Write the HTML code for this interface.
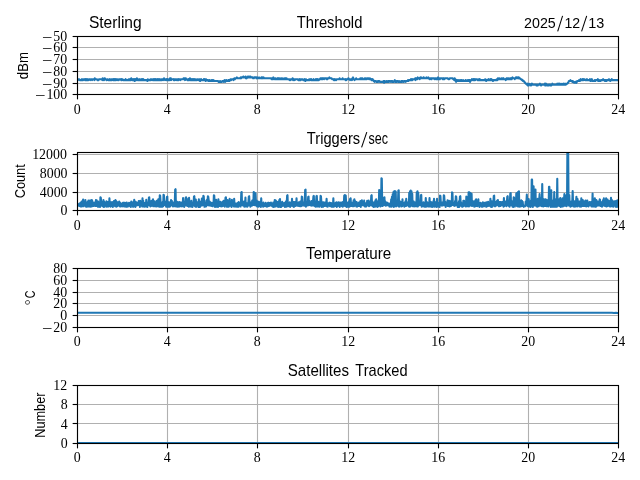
<!DOCTYPE html>
<html><head><meta charset="utf-8"><title>Sterling</title>
<style>html,body{margin:0;padding:0;background:#fff;}svg{display:block;will-change:transform;}</style></head><body>
<svg width="640" height="480" viewBox="0 0 640 480">
<rect width="640" height="480" fill="#fff"/>
<defs><clipPath id="c0"><rect x="77.5" y="36.5" width="541" height="58"/></clipPath><clipPath id="c1"><rect x="77.5" y="152.5" width="541" height="58"/></clipPath><clipPath id="c2"><rect x="77.5" y="268.5" width="541" height="59"/></clipPath><clipPath id="c3"><rect x="77.5" y="385.5" width="541" height="58"/></clipPath></defs>
<line x1="77.5" y1="36.5" x2="77.5" y2="94.5" stroke="#b0b0b0" stroke-width="1.11"/>
<line x1="167.5" y1="36.5" x2="167.5" y2="94.5" stroke="#b0b0b0" stroke-width="1.11"/>
<line x1="257.5" y1="36.5" x2="257.5" y2="94.5" stroke="#b0b0b0" stroke-width="1.11"/>
<line x1="348.5" y1="36.5" x2="348.5" y2="94.5" stroke="#b0b0b0" stroke-width="1.11"/>
<line x1="438.5" y1="36.5" x2="438.5" y2="94.5" stroke="#b0b0b0" stroke-width="1.11"/>
<line x1="528.5" y1="36.5" x2="528.5" y2="94.5" stroke="#b0b0b0" stroke-width="1.11"/>
<line x1="618.5" y1="36.5" x2="618.5" y2="94.5" stroke="#b0b0b0" stroke-width="1.11"/>
<line x1="77.5" y1="94.5" x2="618.5" y2="94.5" stroke="#b0b0b0" stroke-width="1.11"/>
<line x1="77.5" y1="83.5" x2="618.5" y2="83.5" stroke="#b0b0b0" stroke-width="1.11"/>
<line x1="77.5" y1="71.5" x2="618.5" y2="71.5" stroke="#b0b0b0" stroke-width="1.11"/>
<line x1="77.5" y1="59.5" x2="618.5" y2="59.5" stroke="#b0b0b0" stroke-width="1.11"/>
<line x1="77.5" y1="47.5" x2="618.5" y2="47.5" stroke="#b0b0b0" stroke-width="1.11"/>
<line x1="77.5" y1="36.5" x2="618.5" y2="36.5" stroke="#b0b0b0" stroke-width="1.11"/>
<polyline clip-path="url(#c0)" points="77.5,79.2 77.88,80.1 78.25,79.2 78.63,79.2 79,79.2 79.38,79.2 79.76,80.1 80.13,80.1 80.51,80.1 80.88,80.1 81.26,80.1 81.64,80.1 82.01,79.2 82.39,80.1 82.76,80.1 83.14,80.1 83.52,79.2 83.89,79.2 84.27,79.2 84.64,79.2 85.02,80.1 85.4,79.2 85.77,80.1 86.15,79.2 86.52,80.1 86.9,80.1 87.28,79.2 87.65,80.1 88.03,80.1 88.4,80.1 88.78,79.2 89.16,79.2 89.53,79.2 89.91,79.2 90.28,80.1 90.66,79.2 91.04,79.2 91.41,79.2 91.79,79.2 92.16,80.1 92.54,79.2 92.92,79.2 93.29,79.2 93.67,79.2 94.04,79.2 94.42,80.1 94.8,78.3 95.17,79.2 95.55,79.2 95.92,79.2 96.3,79.2 96.68,79.2 97.05,79.2 97.43,80.1 97.8,80.1 98.18,80.1 98.56,80.1 98.93,79.2 99.31,79.2 99.68,79.2 100.06,79.2 100.44,79.2 100.81,79.2 101.19,79.2 101.56,79.2 101.94,79.2 102.32,80.1 102.69,78.3 103.07,79.2 103.44,79.2 103.82,80.1 104.2,80.1 104.57,78.3 104.95,78.3 105.32,79.2 105.7,79.2 106.08,79.2 106.45,80.1 106.83,80.1 107.2,79.2 107.58,79.2 107.96,79.2 108.33,80.1 108.71,80.1 109.08,80.1 109.46,80.1 109.84,79.2 110.21,80.1 110.59,80.1 110.96,80.1 111.34,79.2 111.72,79.2 112.09,80.1 112.47,79.2 112.84,79.2 113.22,80.1 113.6,79.2 113.97,80.1 114.35,80.1 114.72,79.2 115.1,80.1 115.48,80.1 115.85,79.2 116.23,80.1 116.6,79.2 116.98,79.2 117.36,80.1 117.73,79.2 118.11,79.2 118.48,80.1 118.86,80.1 119.24,79.2 119.61,79.2 119.99,79.2 120.36,79.2 120.74,79.2 121.12,80.1 121.49,79.2 121.87,80.1 122.24,79.2 122.62,79.2 123,80.1 123.37,80.1 123.75,80.1 124.12,80.1 124.5,80.1 124.88,80.1 125.25,80.1 125.63,79.2 126,80.1 126.38,80.1 126.76,80.1 127.13,80.1 127.51,80.1 127.88,80.1 128.26,80.1 128.64,79.2 129.01,79.2 129.39,80.1 129.76,80.1 130.14,79.2 130.52,80.1 130.89,80.1 131.27,78.3 131.64,79.2 132.02,80.1 132.4,80.1 132.77,80.1 133.15,79.2 133.52,80.1 133.9,80.1 134.28,79.2 134.65,81 135.03,80.1 135.4,79.2 135.78,80.1 136.16,80.1 136.53,80.1 136.91,78.3 137.28,79.2 137.66,80.1 138.04,79.2 138.41,80.1 138.79,80.1 139.16,80.1 139.54,80.1 139.92,79.2 140.29,80.1 140.67,80.1 141.04,80.1 141.42,80.1 141.8,79.2 142.17,80.1 142.55,79.2 142.92,80.1 143.3,79.2 143.68,80.1 144.05,80.1 144.43,80.1 144.8,80.1 145.18,80.1 145.56,80.1 145.93,80.1 146.31,80.1 146.68,80.1 147.06,80.1 147.44,81 147.81,79.2 148.19,80.1 148.56,80.1 148.94,80.1 149.32,80.1 149.69,80.1 150.07,80.1 150.44,79.2 150.82,79.2 151.2,80.1 151.57,79.2 151.95,79.2 152.32,79.2 152.7,80.1 153.08,80.1 153.45,80.1 153.83,79.2 154.2,80.1 154.58,79.2 154.96,80.1 155.33,80.1 155.71,79.2 156.08,80.1 156.46,80.1 156.84,80.1 157.21,79.2 157.59,80.1 157.96,80.1 158.34,79.2 158.72,80.1 159.09,80.1 159.47,80.1 159.84,79.2 160.22,80.1 160.6,80.1 160.97,80.1 161.35,79.2 161.72,79.2 162.1,80.1 162.48,79.2 162.85,79.2 163.23,80.1 163.6,79.2 163.98,78.3 164.36,79.2 164.73,79.2 165.11,80.1 165.48,79.2 165.86,79.2 166.24,79.2 166.61,80.1 166.99,79.2 167.36,80.1 167.74,79.2 168.12,80.1 168.49,80.1 168.87,80.1 169.24,79.2 169.62,80.1 170,78.3 170.37,79.2 170.75,78.3 171.12,80.1 171.5,79.2 171.88,79.2 172.25,79.2 172.63,79.2 173,79.2 173.38,79.2 173.76,80.1 174.13,79.2 174.51,80.1 174.88,80.1 175.26,79.2 175.64,79.2 176.01,79.2 176.39,80.1 176.76,79.2 177.14,79.2 177.52,80.1 177.89,80.1 178.27,79.2 178.64,80.1 179.02,79.2 179.4,79.2 179.77,79.2 180.15,79.2 180.52,80.1 180.9,79.2 181.28,79.2 181.65,79.2 182.03,79.2 182.4,79.2 182.78,79.2 183.16,79.2 183.53,78.3 183.91,79.2 184.28,79.2 184.66,78.3 185.04,80.1 185.41,79.2 185.79,78.3 186.16,79.2 186.54,79.2 186.92,79.2 187.29,80.1 187.67,80.1 188.04,80.1 188.42,79.2 188.8,80.1 189.17,80.1 189.55,80.1 189.92,78.3 190.3,80.1 190.68,80.1 191.05,79.2 191.43,79.2 191.8,80.1 192.18,79.2 192.56,80.1 192.93,80.1 193.31,79.2 193.68,80.1 194.06,80.1 194.44,79.2 194.81,80.1 195.19,80.1 195.56,79.2 195.94,79.2 196.32,80.1 196.69,80.1 197.07,80.1 197.44,79.2 197.82,79.2 198.2,79.2 198.57,80.1 198.95,80.1 199.32,79.2 199.7,79.2 200.08,81 200.45,80.1 200.83,80.1 201.2,79.2 201.58,80.1 201.96,80.1 202.33,80.1 202.71,80.1 203.08,80.1 203.46,80.1 203.84,79.2 204.21,80.1 204.59,80.1 204.96,79.2 205.34,80.1 205.72,81 206.09,79.2 206.47,80.1 206.84,80.1 207.22,80.1 207.6,80.1 207.97,80.1 208.35,81 208.72,81 209.1,80.1 209.48,80.1 209.85,81 210.23,81 210.6,81 210.98,81 211.36,80.1 211.73,81 212.11,80.1 212.48,80.1 212.86,81 213.24,81 213.61,80.1 213.99,81 214.36,81 214.74,81 215.12,81 215.49,81 215.87,81 216.24,81 216.62,81 217,81 217.37,81 217.75,81 218.12,81 218.5,81.9 218.88,81.9 219.25,81.9 219.63,81.9 220,81 220.38,81.9 220.76,81.9 221.13,81.9 221.51,81.9 221.88,81.9 222.26,81 222.64,81 223.01,81 223.39,81 223.76,81.9 224.14,81 224.52,80.1 224.89,81 225.27,81.9 225.64,81 226.02,80.1 226.4,80.1 226.77,81 227.15,81 227.52,81 227.9,81 228.28,80.1 228.65,80.1 229.03,80.1 229.4,81 229.78,80.1 230.16,80.1 230.53,79.2 230.91,79.2 231.28,80.1 231.66,79.2 232.04,79.2 232.41,79.2 232.79,79.2 233.16,79.2 233.54,80.1 233.92,79.2 234.29,78.3 234.67,78.3 235.04,79.2 235.42,78.3 235.8,78.3 236.17,78.3 236.55,78.3 236.92,77.4 237.3,78.3 237.68,78.3 238.05,78.3 238.43,78.3 238.8,78.3 239.18,78.3 239.56,78.3 239.93,78.3 240.31,78.3 240.68,77.4 241.06,78.3 241.44,77.4 241.81,77.4 242.19,77.4 242.56,77.4 242.94,77.4 243.32,76.5 243.69,77.4 244.07,77.4 244.44,77.4 244.82,77.4 245.2,77.4 245.57,76.5 245.95,78.3 246.32,77.4 246.7,78.3 247.08,77.4 247.45,77.4 247.83,76.5 248.2,77.4 248.58,77.4 248.96,76.5 249.33,77.4 249.71,77.4 250.08,76.5 250.46,76.5 250.84,77.4 251.21,77.4 251.59,77.4 251.96,77.4 252.34,77.4 252.72,77.4 253.09,78.3 253.47,78.3 253.84,78.3 254.22,77.4 254.6,77.4 254.97,77.4 255.35,77.4 255.72,77.4 256.1,77.4 256.48,78.3 256.85,77.4 257.23,77.4 257.6,78.3 257.98,78.3 258.36,78.3 258.73,78.3 259.11,77.4 259.48,78.3 259.86,78.3 260.24,78.3 260.61,78.3 260.99,78.3 261.36,77.4 261.74,77.4 262.12,78.3 262.49,77.4 262.87,78.3 263.24,78.3 263.62,77.4 264,78.3 264.37,78.3 264.75,78.3 265.12,78.3 265.5,78.3 265.88,78.3 266.25,78.3 266.63,78.3 267,78.3 267.38,78.3 267.76,78.3 268.13,78.3 268.51,78.3 268.88,78.3 269.26,78.3 269.64,78.3 270.01,78.3 270.39,78.3 270.76,78.3 271.14,78.3 271.52,79.2 271.89,78.3 272.27,79.2 272.64,78.3 273.02,79.2 273.4,77.4 273.77,78.3 274.15,78.3 274.52,79.2 274.9,79.2 275.28,78.3 275.65,79.2 276.03,79.2 276.4,79.2 276.78,79.2 277.16,78.3 277.53,79.2 277.91,78.3 278.28,79.2 278.66,78.3 279.04,79.2 279.41,79.2 279.79,78.3 280.16,79.2 280.54,79.2 280.92,79.2 281.29,78.3 281.67,79.2 282.04,79.2 282.42,79.2 282.8,78.3 283.17,79.2 283.55,79.2 283.92,79.2 284.3,79.2 284.68,78.3 285.05,79.2 285.43,78.3 285.8,79.2 286.18,79.2 286.56,78.3 286.93,79.2 287.31,79.2 287.68,79.2 288.06,79.2 288.44,79.2 288.81,79.2 289.19,79.2 289.56,80.1 289.94,79.2 290.32,79.2 290.69,80.1 291.07,79.2 291.44,79.2 291.82,79.2 292.2,79.2 292.57,78.3 292.95,80.1 293.32,80.1 293.7,79.2 294.08,79.2 294.45,79.2 294.83,80.1 295.2,79.2 295.58,79.2 295.96,79.2 296.33,79.2 296.71,79.2 297.08,79.2 297.46,79.2 297.84,79.2 298.21,80.1 298.59,80.1 298.96,79.2 299.34,79.2 299.72,80.1 300.09,79.2 300.47,80.1 300.84,80.1 301.22,79.2 301.6,79.2 301.97,79.2 302.35,79.2 302.72,79.2 303.1,80.1 303.48,80.1 303.85,80.1 304.23,80.1 304.6,79.2 304.98,80.1 305.36,81 305.73,79.2 306.11,79.2 306.48,80.1 306.86,80.1 307.24,80.1 307.61,80.1 307.99,80.1 308.36,80.1 308.74,80.1 309.12,79.2 309.49,79.2 309.87,80.1 310.24,79.2 310.62,79.2 311,80.1 311.37,79.2 311.75,80.1 312.12,80.1 312.5,80.1 312.88,80.1 313.25,80.1 313.63,79.2 314,80.1 314.38,80.1 314.76,80.1 315.13,80.1 315.51,80.1 315.88,79.2 316.26,80.1 316.64,80.1 317.01,79.2 317.39,80.1 317.76,79.2 318.14,80.1 318.52,80.1 318.89,80.1 319.27,79.2 319.64,79.2 320.02,79.2 320.4,78.3 320.77,79.2 321.15,79.2 321.52,78.3 321.9,79.2 322.28,78.3 322.65,79.2 323.03,78.3 323.4,78.3 323.78,78.3 324.16,79.2 324.53,78.3 324.91,78.3 325.28,78.3 325.66,78.3 326.04,78.3 326.41,79.2 326.79,78.3 327.16,78.3 327.54,79.2 327.92,78.3 328.29,78.3 328.67,78.3 329.04,78.3 329.42,77.4 329.8,78.3 330.17,78.3 330.55,78.3 330.92,78.3 331.3,78.3 331.68,78.3 332.05,79.2 332.43,79.2 332.8,79.2 333.18,79.2 333.56,79.2 333.93,80.1 334.31,79.2 334.68,80.1 335.06,79.2 335.44,79.2 335.81,80.1 336.19,80.1 336.56,79.2 336.94,79.2 337.32,79.2 337.69,79.2 338.07,79.2 338.44,79.2 338.82,79.2 339.2,79.2 339.57,78.3 339.95,79.2 340.32,79.2 340.7,79.2 341.08,79.2 341.45,79.2 341.83,79.2 342.2,79.2 342.58,78.3 342.96,79.2 343.33,79.2 343.71,79.2 344.08,79.2 344.46,79.2 344.84,79.2 345.21,79.2 345.59,80.1 345.96,79.2 346.34,80.1 346.72,79.2 347.09,79.2 347.47,79.2 347.84,79.2 348.22,78.3 348.6,78.3 348.97,79.2 349.35,79.2 349.72,79.2 350.1,80.1 350.48,79.2 350.85,79.2 351.23,79.2 351.6,79.2 351.98,80.1 352.36,78.3 352.73,79.2 353.11,77.4 353.48,79.2 353.86,79.2 354.24,79.2 354.61,80.1 354.99,79.2 355.36,79.2 355.74,79.2 356.12,78.3 356.49,79.2 356.87,79.2 357.24,79.2 357.62,79.2 358,79.2 358.37,79.2 358.75,79.2 359.12,79.2 359.5,79.2 359.88,79.2 360.25,78.3 360.63,79.2 361,79.2 361.38,78.3 361.76,79.2 362.13,79.2 362.51,78.3 362.88,79.2 363.26,79.2 363.64,79.2 364.01,79.2 364.39,79.2 364.76,78.3 365.14,79.2 365.52,79.2 365.89,78.3 366.27,79.2 366.64,79.2 367.02,79.2 367.4,78.3 367.77,78.3 368.15,78.3 368.52,78.3 368.9,79.2 369.28,79.2 369.65,78.3 370.03,78.3 370.4,79.2 370.78,79.2 371.16,79.2 371.53,80.1 371.91,79.2 372.28,80.1 372.66,79.2 373.04,80.1 373.41,80.1 373.79,81 374.16,81 374.54,81.9 374.92,81 375.29,81 375.67,81 376.04,81 376.42,81.9 376.8,81.9 377.17,81.9 377.55,81.9 377.92,81 378.3,81.9 378.68,81 379.05,81 379.43,81 379.8,81.9 380.18,81.9 380.56,81.9 380.93,81.9 381.31,81.9 381.68,81.9 382.06,81.9 382.44,81.9 382.81,81.9 383.19,81.9 383.56,81 383.94,82.8 384.32,82.8 384.69,81 385.07,81.9 385.44,81.9 385.82,81.9 386.2,81.9 386.57,81 386.95,81 387.32,81.9 387.7,81.9 388.08,81 388.45,81 388.83,81.9 389.2,81 389.58,81 389.96,81 390.33,81.9 390.71,81 391.08,81 391.46,81 391.84,81.9 392.21,81 392.59,81.9 392.96,81.9 393.34,81.9 393.72,81.9 394.09,81 394.47,81 394.84,80.1 395.22,81.9 395.6,81 395.97,81 396.35,81.9 396.72,81 397.1,81.9 397.48,81 397.85,81 398.23,81.9 398.6,81.9 398.98,81 399.36,81.9 399.73,81.9 400.11,81.9 400.48,81.9 400.86,81.9 401.24,81 401.61,81.9 401.99,81 402.36,81.9 402.74,81 403.12,81 403.49,81.9 403.87,81.9 404.24,81 404.62,81 405,81 405.37,81 405.75,81.9 406.12,81 406.5,81 406.88,81 407.25,81 407.63,81 408,80.1 408.38,81 408.76,80.1 409.13,80.1 409.51,80.1 409.88,80.1 410.26,80.1 410.64,80.1 411.01,79.2 411.39,80.1 411.76,80.1 412.14,79.2 412.52,80.1 412.89,79.2 413.27,79.2 413.64,79.2 414.02,79.2 414.4,79.2 414.77,79.2 415.15,78.3 415.52,80.1 415.9,78.3 416.28,79.2 416.65,78.3 417.03,79.2 417.4,79.2 417.78,77.4 418.16,78.3 418.53,78.3 418.91,78.3 419.28,78.3 419.66,79.2 420.04,78.3 420.41,77.4 420.79,78.3 421.16,77.4 421.54,78.3 421.92,78.3 422.29,78.3 422.67,78.3 423.04,78.3 423.42,77.4 423.8,77.4 424.17,78.3 424.55,78.3 424.92,78.3 425.3,78.3 425.68,78.3 426.05,78.3 426.43,77.4 426.8,78.3 427.18,78.3 427.56,78.3 427.93,78.3 428.31,77.4 428.68,78.3 429.06,78.3 429.44,79.2 429.81,78.3 430.19,78.3 430.56,78.3 430.94,79.2 431.32,78.3 431.69,79.2 432.07,78.3 432.44,78.3 432.82,78.3 433.2,78.3 433.57,78.3 433.95,78.3 434.32,79.2 434.7,78.3 435.08,78.3 435.45,78.3 435.83,79.2 436.2,78.3 436.58,78.3 436.96,79.2 437.33,79.2 437.71,78.3 438.08,77.4 438.46,79.2 438.84,79.2 439.21,78.3 439.59,78.3 439.96,79.2 440.34,78.3 440.72,78.3 441.09,78.3 441.47,78.3 441.84,78.3 442.22,78.3 442.6,79.2 442.97,78.3 443.35,79.2 443.72,78.3 444.1,79.2 444.48,79.2 444.85,78.3 445.23,78.3 445.6,78.3 445.98,78.3 446.36,78.3 446.73,78.3 447.11,78.3 447.48,78.3 447.86,78.3 448.24,79.2 448.61,79.2 448.99,79.2 449.36,79.2 449.74,78.3 450.12,78.3 450.49,78.3 450.87,78.3 451.24,78.3 451.62,78.3 452,78.3 452.37,78.3 452.75,78.3 453.12,79.2 453.5,79.2 453.88,79.2 454.25,80.1 454.63,78.3 455,80.1 455.38,79.2 455.76,81 456.13,81.9 456.51,80.1 456.88,81 457.26,81 457.64,80.1 458.01,81 458.39,80.1 458.76,81 459.14,81 459.52,81 459.89,80.1 460.27,81 460.64,80.1 461.02,81 461.4,80.1 461.77,80.1 462.15,81 462.52,81 462.9,81 463.28,80.1 463.65,81 464.03,81 464.4,81 464.78,81 465.16,81 465.53,80.1 465.91,80.1 466.28,81 466.66,81 467.04,81 467.41,81 467.79,80.1 468.16,80.1 468.54,81 468.92,80.1 469.29,80.1 469.67,80.1 470.04,81.9 470.42,81 470.8,80.1 471.17,80.1 471.55,80.1 471.92,79.2 472.3,80.1 472.68,79.2 473.05,79.2 473.43,80.1 473.8,79.2 474.18,80.1 474.56,80.1 474.93,79.2 475.31,80.1 475.68,79.2 476.06,79.2 476.44,79.2 476.81,79.2 477.19,79.2 477.56,80.1 477.94,80.1 478.32,80.1 478.69,80.1 479.07,79.2 479.44,80.1 479.82,79.2 480.2,80.1 480.57,80.1 480.95,80.1 481.32,80.1 481.7,80.1 482.08,80.1 482.45,80.1 482.83,80.1 483.2,80.1 483.58,80.1 483.96,80.1 484.33,80.1 484.71,80.1 485.08,79.2 485.46,79.2 485.84,80.1 486.21,81 486.59,80.1 486.96,80.1 487.34,80.1 487.72,80.1 488.09,80.1 488.47,79.2 488.84,80.1 489.22,80.1 489.6,80.1 489.97,80.1 490.35,79.2 490.72,80.1 491.1,80.1 491.48,79.2 491.85,80.1 492.23,80.1 492.6,80.1 492.98,81 493.36,80.1 493.73,80.1 494.11,80.1 494.48,80.1 494.86,80.1 495.24,80.1 495.61,80.1 495.99,80.1 496.36,80.1 496.74,79.2 497.12,79.2 497.49,80.1 497.87,78.3 498.24,79.2 498.62,79.2 499,78.3 499.37,78.3 499.75,79.2 500.12,79.2 500.5,79.2 500.88,79.2 501.25,78.3 501.63,79.2 502,79.2 502.38,79.2 502.76,78.3 503.13,79.2 503.51,78.3 503.88,79.2 504.26,79.2 504.64,79.2 505.01,79.2 505.39,79.2 505.76,80.1 506.14,79.2 506.52,78.3 506.89,79.2 507.27,79.2 507.64,78.3 508.02,79.2 508.4,79.2 508.77,78.3 509.15,79.2 509.52,79.2 509.9,79.2 510.28,78.3 510.65,79.2 511.03,78.3 511.4,78.3 511.78,79.2 512.16,78.3 512.53,77.4 512.91,78.3 513.28,78.3 513.66,78.3 514.04,78.3 514.41,78.3 514.79,79.2 515.16,78.3 515.54,78.3 515.92,77.4 516.29,77.4 516.67,77.4 517.04,78.3 517.42,78.3 517.8,77.4 518.17,77.4 518.55,78.3 518.92,77.4 519.3,78.3 519.68,78.3 520.05,78.3 520.43,79.2 520.8,79.2 521.18,79.2 521.56,79.2 521.93,80.1 522.31,80.1 522.68,80.1 523.06,81 523.44,81 523.81,81 524.19,81.9 524.56,81.9 524.94,82.8 525.32,82.8 525.69,83.7 526.07,83.7 526.44,83.7 526.82,84.6 527.2,84.6 527.57,83.7 527.95,85.5 528.32,84.6 528.7,85.5 529.08,83.7 529.45,84.6 529.83,84.6 530.2,84.6 530.58,84.6 530.96,85.5 531.33,83.7 531.71,84.6 532.08,83.7 532.46,84.6 532.84,84.6 533.21,84.6 533.59,84.6 533.96,84.6 534.34,84.6 534.72,84.6 535.09,84.6 535.47,84.6 535.84,84.6 536.22,84.6 536.6,85.5 536.97,84.6 537.35,84.6 537.72,85.5 538.1,84.6 538.48,84.6 538.85,84.6 539.23,84.6 539.6,84.6 539.98,83.7 540.36,84.6 540.73,84.6 541.11,85.5 541.48,84.6 541.86,84.6 542.24,84.6 542.61,84.6 542.99,84.6 543.36,84.6 543.74,84.6 544.12,84.6 544.49,84.6 544.87,83.7 545.24,85.5 545.62,84.6 546,83.7 546.37,84.6 546.75,84.6 547.12,85.5 547.5,84.6 547.88,85.5 548.25,84.6 548.63,85.5 549,84.6 549.38,84.6 549.76,84.6 550.13,84.6 550.51,85.5 550.88,84.6 551.26,85.5 551.64,84.6 552.01,84.6 552.39,83.7 552.76,84.6 553.14,84.6 553.52,84.6 553.89,84.6 554.27,84.6 554.64,84.6 555.02,84.6 555.4,84.6 555.77,84.6 556.15,84.6 556.52,84.6 556.9,84.6 557.28,83.7 557.65,84.6 558.03,84.6 558.4,84.6 558.78,83.7 559.16,84.6 559.53,84.6 559.91,83.7 560.28,84.6 560.66,84.6 561.04,84.6 561.41,84.6 561.79,83.7 562.16,83.7 562.54,84.6 562.92,84.6 563.29,84.6 563.67,83.7 564.04,84.6 564.42,84.6 564.8,84.6 565.17,83.7 565.55,84.6 565.92,84.6 566.3,83.7 566.68,83.7 567.05,83.7 567.43,83.7 567.8,82.8 568.18,82.8 568.56,81.9 568.93,81 569.31,81 569.68,81 570.06,81 570.44,80.1 570.81,81 571.19,81 571.56,81 571.94,81 572.32,81.9 572.69,81 573.07,81.9 573.44,81.9 573.82,81.9 574.2,82.8 574.57,82.8 574.95,82.8 575.32,81.9 575.7,81.9 576.08,81.9 576.45,82.8 576.83,81.9 577.2,81 577.58,81 577.96,81 578.33,81 578.71,81 579.08,80.1 579.46,81 579.84,81 580.21,80.1 580.59,79.2 580.96,80.1 581.34,80.1 581.72,80.1 582.09,80.1 582.47,79.2 582.84,80.1 583.22,79.2 583.6,80.1 583.97,79.2 584.35,79.2 584.72,79.2 585.1,80.1 585.48,80.1 585.85,80.1 586.23,80.1 586.6,80.1 586.98,79.2 587.36,80.1 587.73,80.1 588.11,80.1 588.48,80.1 588.86,80.1 589.24,80.1 589.61,80.1 589.99,79.2 590.36,81 590.74,81 591.12,80.1 591.49,80.1 591.87,79.2 592.24,81 592.62,81 593,81 593.37,81 593.75,81 594.12,81 594.5,80.1 594.88,81 595.25,81 595.63,80.1 596,80.1 596.38,80.1 596.76,80.1 597.13,80.1 597.51,80.1 597.88,79.2 598.26,81 598.64,80.1 599.01,81 599.39,80.1 599.76,81 600.14,81 600.52,81 600.89,80.1 601.27,80.1 601.64,80.1 602.02,80.1 602.4,80.1 602.77,80.1 603.15,79.2 603.52,80.1 603.9,80.1 604.28,80.1 604.65,80.1 605.03,81 605.4,80.1 605.78,80.1 606.16,80.1 606.53,81 606.91,80.1 607.28,80.1 607.66,80.1 608.04,80.1 608.41,80.1 608.79,79.2 609.16,79.2 609.54,80.1 609.92,80.1 610.29,81 610.67,80.1 611.04,80.1 611.42,80.1 611.8,79.2 612.17,80.1 612.55,80.1 612.92,80.1 613.3,80.1 613.68,80.1 614.05,80.1 614.43,80.1 614.8,80.1 615.18,80.1 615.56,80.1 615.93,80.1 616.31,80.1 616.68,80.1 617.06,80.1 617.44,80.1 617.81,80.1 618.19,80.1" fill="none" stroke="#1f77b4" stroke-width="2.08" stroke-linejoin="round" stroke-linecap="butt"/>
<line x1="77.5" y1="94.5" x2="77.5" y2="99.36" stroke="#000" stroke-width="1.11"/>
<text x="77.2" y="113.75" text-anchor="middle" font-family='"Liberation Serif", serif' font-size="13.89">0</text>
<line x1="167.5" y1="94.5" x2="167.5" y2="99.36" stroke="#000" stroke-width="1.11"/>
<text x="167.2" y="113.75" text-anchor="middle" font-family='"Liberation Serif", serif' font-size="13.89">4</text>
<line x1="257.5" y1="94.5" x2="257.5" y2="99.36" stroke="#000" stroke-width="1.11"/>
<text x="257.2" y="113.75" text-anchor="middle" font-family='"Liberation Serif", serif' font-size="13.89">8</text>
<line x1="348.5" y1="94.5" x2="348.5" y2="99.36" stroke="#000" stroke-width="1.11"/>
<text x="348.2" y="113.75" text-anchor="middle" font-family='"Liberation Serif", serif' font-size="13.89">12</text>
<line x1="438.5" y1="94.5" x2="438.5" y2="99.36" stroke="#000" stroke-width="1.11"/>
<text x="438.2" y="113.75" text-anchor="middle" font-family='"Liberation Serif", serif' font-size="13.89">16</text>
<line x1="528.5" y1="94.5" x2="528.5" y2="99.36" stroke="#000" stroke-width="1.11"/>
<text x="528.2" y="113.75" text-anchor="middle" font-family='"Liberation Serif", serif' font-size="13.89">20</text>
<line x1="618.5" y1="94.5" x2="618.5" y2="99.36" stroke="#000" stroke-width="1.11"/>
<text x="618.2" y="113.75" text-anchor="middle" font-family='"Liberation Serif", serif' font-size="13.89">24</text>
<line x1="72.64" y1="94.5" x2="77.5" y2="94.5" stroke="#000" stroke-width="1.11"/>
<text x="67.2" y="99.45" text-anchor="end" font-family='"Liberation Serif", serif' font-size="13.89">100</text>
<line x1="36.02" y1="95.5" x2="44.62" y2="95.5" stroke="#000" stroke-width="0.75"/>
<line x1="72.64" y1="83.5" x2="77.5" y2="83.5" stroke="#000" stroke-width="1.11"/>
<text x="67.2" y="87.71" text-anchor="end" font-family='"Liberation Serif", serif' font-size="13.89">90</text>
<line x1="42.96" y1="84.5" x2="51.56" y2="84.5" stroke="#000" stroke-width="0.75"/>
<line x1="72.64" y1="71.5" x2="77.5" y2="71.5" stroke="#000" stroke-width="1.11"/>
<text x="67.2" y="75.97" text-anchor="end" font-family='"Liberation Serif", serif' font-size="13.89">80</text>
<line x1="42.96" y1="72.5" x2="51.56" y2="72.5" stroke="#000" stroke-width="0.75"/>
<line x1="72.64" y1="59.5" x2="77.5" y2="59.5" stroke="#000" stroke-width="1.11"/>
<text x="67.2" y="64.23" text-anchor="end" font-family='"Liberation Serif", serif' font-size="13.89">70</text>
<line x1="42.96" y1="60.5" x2="51.56" y2="60.5" stroke="#000" stroke-width="0.75"/>
<line x1="72.64" y1="47.5" x2="77.5" y2="47.5" stroke="#000" stroke-width="1.11"/>
<text x="67.2" y="52.49" text-anchor="end" font-family='"Liberation Serif", serif' font-size="13.89">60</text>
<line x1="42.96" y1="48.5" x2="51.56" y2="48.5" stroke="#000" stroke-width="0.75"/>
<line x1="72.64" y1="36.5" x2="77.5" y2="36.5" stroke="#000" stroke-width="1.11"/>
<text x="67.2" y="40.75" text-anchor="end" font-family='"Liberation Serif", serif' font-size="13.89">50</text>
<line x1="42.96" y1="37.5" x2="51.56" y2="37.5" stroke="#000" stroke-width="0.75"/>
<rect x="77.5" y="36.5" width="541" height="58" fill="none" stroke="#000" stroke-width="1.11" stroke-linejoin="miter"/>
<text x="88.9" y="28" font-family='"Liberation Sans", sans-serif' font-size="16.1" textLength="52.79" lengthAdjust="spacingAndGlyphs">Sterling</text>
<text x="296.77" y="28" font-family='"Liberation Sans", sans-serif' font-size="16.1" textLength="65.58" lengthAdjust="spacingAndGlyphs">Threshold</text>
<text x="524.09" y="28" font-family='"Liberation Sans", sans-serif' font-size="15.4" textLength="31.71" lengthAdjust="spacingAndGlyphs">2025</text>
<line x1="557.7" y1="31.3" x2="562.6" y2="15.9" stroke="#000" stroke-width="1.05"/>
<text x="564.44" y="28" font-family='"Liberation Sans", sans-serif' font-size="15.4" textLength="15.7" lengthAdjust="spacingAndGlyphs">12</text>
<line x1="581.6" y1="31.3" x2="586.7" y2="15.9" stroke="#000" stroke-width="1.05"/>
<text x="588.32" y="28" font-family='"Liberation Sans", sans-serif' font-size="15.4" textLength="16.03" lengthAdjust="spacingAndGlyphs">13</text>
<text transform="translate(27.9,78.6) rotate(-90)" x="-0.56" y="0" font-family='"Liberation Sans", sans-serif' font-size="14.2" textLength="27.13" lengthAdjust="spacingAndGlyphs">dBm</text>
<line x1="77.5" y1="152.5" x2="77.5" y2="210.5" stroke="#b0b0b0" stroke-width="1.11"/>
<line x1="167.5" y1="152.5" x2="167.5" y2="210.5" stroke="#b0b0b0" stroke-width="1.11"/>
<line x1="257.5" y1="152.5" x2="257.5" y2="210.5" stroke="#b0b0b0" stroke-width="1.11"/>
<line x1="348.5" y1="152.5" x2="348.5" y2="210.5" stroke="#b0b0b0" stroke-width="1.11"/>
<line x1="438.5" y1="152.5" x2="438.5" y2="210.5" stroke="#b0b0b0" stroke-width="1.11"/>
<line x1="528.5" y1="152.5" x2="528.5" y2="210.5" stroke="#b0b0b0" stroke-width="1.11"/>
<line x1="618.5" y1="152.5" x2="618.5" y2="210.5" stroke="#b0b0b0" stroke-width="1.11"/>
<line x1="77.5" y1="210.5" x2="618.5" y2="210.5" stroke="#b0b0b0" stroke-width="1.11"/>
<line x1="77.5" y1="192.5" x2="618.5" y2="192.5" stroke="#b0b0b0" stroke-width="1.11"/>
<line x1="77.5" y1="173.5" x2="618.5" y2="173.5" stroke="#b0b0b0" stroke-width="1.11"/>
<line x1="77.5" y1="154.5" x2="618.5" y2="154.5" stroke="#b0b0b0" stroke-width="1.11"/>
<polyline clip-path="url(#c1)" points="78.6,204.9 80.5,204.6 522.8,204.6 523.4,206.3 525.1,206.3 525.7,204.6 569.9,204.6 570.3,205.6 571.1,205.6 571.5,204.6 618.5,204.6" fill="none" stroke="#1f77b4" stroke-width="1.5" stroke-linejoin="round" stroke-linecap="butt"/>
<polyline clip-path="url(#c1)" points="77.5,204.9 77.88,204.46 78.25,205.36 78.63,203.97 79,205.71 79.38,203.48 79.75,206.07 80.13,202.99 80.51,206.42 80.88,202.48 81.26,206.55 81.63,201.56 82.01,206.23 82.38,201.12 82.76,204.93 83.14,199.42 83.51,206.28 83.89,203.3 84.26,205.43 84.64,202.84 85.01,205.39 85.39,200.1 85.77,206.53 86.14,203.04 86.52,206.8 86.89,202.8 87.27,206.56 87.64,201.83 88.02,206.18 88.4,200.49 88.77,206.54 89.15,201.83 89.52,206.55 89.9,200.46 90.27,206.66 90.65,202.75 91.03,206.01 91.4,200.1 91.78,206.46 92.15,200.34 92.53,206.07 92.9,202.28 93.28,205.46 93.65,203.51 94.03,205.94 94.41,202.67 94.78,205.02 95.16,202.67 95.53,205.93 95.91,200.1 96.28,205.95 96.66,200.32 97.04,204.91 97.41,202.77 97.79,206.67 98.16,201.46 98.54,206.3 98.91,203.16 99.29,206.67 99.67,202.35 100.04,206.92 100.42,197.3 100.79,197.7 101.17,202.02 101.54,204.96 101.92,201.77 102.3,206.18 102.67,201.98 103.05,205.59 103.42,200.01 103.8,206.96 104.17,201.65 104.55,206.78 104.93,203.47 105.3,204.97 105.68,203.13 106.05,205.61 106.43,201.27 106.8,206.71 107.18,202.31 107.56,206 107.93,202.16 108.31,206.52 108.68,203.16 109.06,205.79 109.43,198.3 109.81,206.06 110.19,202.94 110.56,206.64 110.94,202.35 111.31,205.75 111.69,202.25 112.06,205.96 112.44,203.57 112.82,206.95 113.19,201.9 113.57,205.59 113.94,201.11 114.32,205.57 114.69,202.91 115.07,206.23 115.45,200.1 115.82,206.55 116.2,200.96 116.57,206.76 116.95,202.92 117.32,206.05 117.7,202.23 118.08,204.91 118.45,203.16 118.83,205.3 119.2,201.55 119.58,206.28 119.95,202.5 120.33,206.56 120.7,203.86 121.08,206.2 121.46,203.91 121.83,206.22 122.21,203.37 122.58,206.33 122.96,202.68 123.33,205.35 123.71,202.73 124.09,206.5 124.46,202.75 124.84,205.11 125.21,203.04 125.59,206.53 125.96,202.69 126.34,206.82 126.72,202.65 127.09,206.63 127.47,203.59 127.84,206.55 128.22,203.39 128.59,205.53 128.97,202.81 129.35,205.79 129.72,203.99 130.1,206.25 130.47,202.67 130.85,206.86 131.22,201.53 131.6,204.98 131.98,202.86 132.35,205.15 132.73,202.78 133.1,206.83 133.48,201.53 133.85,205.84 134.23,199.9 134.61,206.14 134.98,203.45 135.36,206.87 135.73,201.68 136.11,205.77 136.48,203.37 136.86,205.11 137.24,202.88 137.61,205.22 137.99,202.67 138.36,204.93 138.74,201.02 139.11,205.16 139.49,203.52 139.87,206.93 140.24,200.68 140.62,205.17 140.99,201.8 141.37,204.94 141.74,203.36 142.12,206.44 142.5,198.4 142.87,205.29 143.25,200.81 143.62,206.4 144,202.69 144.37,206.7 144.75,203.51 145.12,206.22 145.5,202.89 145.88,206.39 146.25,199.77 146.63,205.43 147,202.63 147.38,206.93 147.75,203.55 148.13,204.93 148.51,203.35 148.88,197.7 149.26,197.3 149.63,205.55 150.01,202.97 150.38,206.43 150.76,201.9 151.14,205.92 151.51,200.68 151.89,205.03 152.26,202.1 152.64,205.82 153.01,199.4 153.39,206.32 153.77,201.74 154.14,205.66 154.52,201.2 154.89,206.25 155.27,202.39 155.64,205.71 156.02,202.31 156.4,206.55 156.77,200.8 157.15,206.09 157.52,202.59 157.9,205.51 158.27,199.34 158.65,206.38 159.03,201.89 159.4,206.64 159.78,195.2 160.15,195.6 160.53,201.58 160.9,206.65 161.28,202.42 161.66,205.8 162.03,202.73 162.41,206.77 162.78,201.75 163.16,206.16 163.53,194.8 163.91,195.2 164.29,203.11 164.66,204.9 165.04,202.3 165.41,205.45 165.79,201.6 166.16,206.61 166.54,202.54 166.92,197 167.29,196.6 167.67,206.6 168.04,202.75 168.42,206.72 168.79,202.38 169.17,206.69 169.55,203.01 169.92,206.59 170.3,202.1 170.67,205.63 171.05,200.15 171.42,205.08 171.8,200.73 172.18,205.32 172.55,202.59 172.93,206.48 173.3,202.47 173.68,206.17 174.05,203.08 174.43,206.32 174.8,202.47 175.18,189.6 175.56,189.2 175.93,206.48 176.31,203.11 176.68,205.08 177.06,201.78 177.43,206.59 177.81,203.43 178.19,206.12 178.56,202.37 178.94,206.78 179.31,202.05 179.69,205.9 180.06,202.24 180.44,206.14 180.82,203.19 181.19,205.28 181.57,202.57 181.94,206.37 182.32,202.17 182.69,205.75 183.07,198.1 183.45,205.99 183.82,203.3 184.2,206.99 184.57,203.19 184.95,205.69 185.32,201.71 185.7,197.7 186.08,197.3 186.45,205.23 186.83,202.32 187.2,205.99 187.58,202.7 187.95,204.94 188.33,198.53 188.71,206.72 189.08,197.7 189.46,205.92 189.83,202.39 190.21,206.54 190.58,203.06 190.96,205.79 191.34,200.86 191.71,206.62 192.09,202.64 192.46,206.92 192.84,203.59 193.21,205.32 193.59,203.13 193.97,196.6 194.34,196.2 194.72,206.07 195.09,203.32 195.47,206.73 195.84,199.62 196.22,206.81 196.6,202.53 196.97,205.03 197.35,202.2 197.72,205.15 198.1,202.61 198.47,206.91 198.85,199.4 199.22,206.25 199.6,201.41 199.98,206.91 200.35,202.78 200.73,205.84 201.1,202.11 201.48,205.24 201.85,198.46 202.23,205.37 202.61,202.48 202.98,204.98 203.36,195.9 203.73,196.3 204.11,202.02 204.48,206.8 204.86,203.33 205.24,206.55 205.61,203.15 205.99,206.39 206.36,200.61 206.74,205.02 207.11,199.66 207.49,205.2 207.87,196.2 208.24,196.6 208.62,199.58 208.99,205.53 209.37,201.2 209.74,205.12 210.12,202.04 210.5,205.58 210.87,203.56 211.25,205.91 211.62,202.73 212,205.25 212.37,203.53 212.75,206.32 213.13,202.66 213.5,204.93 213.88,195.2 214.25,195.6 214.63,202.5 215,206.85 215.38,202.87 215.76,206.72 216.13,199.7 216.51,206.77 216.88,202.42 217.26,205.1 217.63,202.18 218.01,206.85 218.39,199.4 218.76,205.85 219.14,201.6 219.51,205.61 219.89,202.74 220.26,206.22 220.64,201.86 221.02,205.2 221.39,203.5 221.77,206.4 222.14,203.03 222.52,206.06 222.89,201.49 223.27,205.46 223.65,200.89 224.02,205.76 224.4,202.84 224.77,206.66 225.15,202.48 225.52,197.7 225.9,197.3 226.28,205.57 226.65,201.88 227.03,206.8 227.4,200.05 227.78,205.02 228.15,200.5 228.53,206.78 228.9,203.02 229.28,205.9 229.66,198.7 230.03,205.5 230.41,203.54 230.78,205.66 231.16,202.46 231.53,206.98 231.91,199.73 232.29,205.1 232.66,203.55 233.04,205.51 233.41,203.14 233.79,206.43 234.16,198.7 234.54,205.52 234.92,203.3 235.29,206.59 235.67,203.56 236.04,205.62 236.42,203.53 236.79,206.65 237.17,203.52 237.55,206.01 237.92,202.89 238.3,206.82 238.67,201.93 239.05,205.36 239.42,202.76 239.8,205.28 240.18,203.2 240.55,206.52 240.93,203.33 241.3,192.4 241.68,192 242.05,205.08 242.43,202.06 242.81,205.48 243.18,202.35 243.56,205.33 243.93,201.57 244.31,206.6 244.68,201.87 245.06,206.12 245.44,197.6 245.81,206.44 246.19,203 246.56,205.76 246.94,203.5 247.31,206.6 247.69,203.04 248.07,205.6 248.44,201.74 248.82,196.6 249.19,196.2 249.57,204.93 249.94,201.97 250.32,206.73 250.7,202.57 251.07,205.46 251.45,202.35 251.82,205.67 252.2,200.65 252.57,205.24 252.95,202.02 253.32,204.91 253.7,192 254.08,192.4 254.45,201.67 254.83,205.15 255.2,193.1 255.58,193.5 255.95,202.22 256.33,205.57 256.71,200.49 257.08,206.39 257.46,201.52 257.83,205.03 258.21,201.68 258.58,206.73 258.96,201.7 259.34,205.98 259.71,203.03 260.09,206.01 260.46,203.26 260.84,206.93 261.21,198.4 261.59,205.37 261.97,203.27 262.34,205.43 262.72,203.27 263.09,206.62 263.47,202.57 263.84,206.37 264.22,203.77 264.6,205.31 264.97,203.78 265.35,206.11 265.72,202.75 266.1,206 266.47,203.58 266.85,206.73 267.23,203.7 267.6,206.41 267.98,202.78 268.35,205.94 268.73,202.86 269.1,205.95 269.48,203.13 269.86,205.75 270.23,203.81 270.61,205.19 270.98,202.57 271.36,205.21 271.73,203.46 272.11,206.1 272.49,203.58 272.86,206.63 273.24,202.58 273.61,206.87 273.99,202.24 274.36,206.66 274.74,200.1 275.12,206 275.49,200.39 275.87,206.53 276.24,201.13 276.62,205.61 276.99,203.51 277.37,205.81 277.75,202.07 278.12,206.96 278.5,202.34 278.87,206.61 279.25,200.06 279.62,206.68 280,199.1 280.38,206.91 280.75,202.92 281.13,206.86 281.5,203.59 281.88,206.23 282.25,201.82 282.63,205.67 283,202.97 283.38,205.81 283.76,203.48 284.13,205.96 284.51,202.68 284.88,206.94 285.26,203.48 285.63,206.53 286.01,201.38 286.39,206.6 286.76,202.67 287.14,195.6 287.51,195.2 287.89,206.25 288.26,203.3 288.64,205.46 289.02,203.01 289.39,206.04 289.77,202.38 290.14,206.84 290.52,202.67 290.89,205.99 291.27,202.71 291.65,205.81 292.02,198.7 292.4,205.54 292.77,203.17 293.15,206.26 293.52,201.94 293.9,206.91 294.28,202.03 294.65,205.98 295.03,203.38 295.4,206.02 295.78,201.71 296.15,205.21 296.53,198.3 296.91,205.52 297.28,202.97 297.66,205.75 298.03,203.3 298.41,205.08 298.78,202.37 299.16,206.05 299.54,202.35 299.91,206.1 300.29,201.63 300.66,206.27 301.04,202.79 301.41,205.87 301.79,196.6 302.17,197 302.54,202.15 302.92,205.55 303.29,202.36 303.67,205.41 304.04,203.24 304.42,205.7 304.8,201.59 305.17,190 305.55,189.6 305.92,206.71 306.3,203.48 306.67,205.4 307.05,201.75 307.43,205.5 307.8,202.91 308.18,197 308.55,196.6 308.93,205.23 309.3,200.79 309.68,205.04 310.05,202.34 310.43,205.03 310.81,202.28 311.18,205.71 311.56,201.02 311.93,205.13 312.31,202.58 312.68,205.37 313.06,200.91 313.44,196.3 313.81,195.9 314.19,205.61 314.56,202.07 314.94,206.19 315.31,201.56 315.69,206.68 316.07,202.71 316.44,196.3 316.82,195.9 317.19,206.46 317.57,203.48 317.94,206.55 318.32,201.67 318.7,206.39 319.07,202.84 319.45,206.73 319.82,203.15 320.2,204.91 320.57,195.9 320.95,196.3 321.33,201.35 321.7,206.92 322.08,202.01 322.45,206.55 322.83,202.83 323.2,206.73 323.58,202.3 323.96,205.85 324.33,202.56 324.71,205.86 325.08,203.36 325.46,205.72 325.83,202.2 326.21,206.07 326.59,198.7 326.96,206.55 327.34,203.07 327.71,206.68 328.09,203.28 328.46,205.29 328.84,203.8 329.22,205.54 329.59,202.66 329.97,206.12 330.34,203.8 330.72,205.08 331.09,202.91 331.47,206.67 331.85,203.63 332.22,206.66 332.6,203.77 332.97,205.8 333.35,198.3 333.72,206.81 334.1,203.77 334.48,206.09 334.85,203.99 335.23,205.94 335.6,202.81 335.98,206.03 336.35,202.34 336.73,207 337.1,202.49 337.48,206.34 337.86,203.96 338.23,205.72 338.61,202.32 338.98,205.64 339.36,203.85 339.73,206.89 340.11,202.56 340.49,205.11 340.86,203.55 341.24,205.69 341.61,202.47 341.99,206.11 342.36,202.59 342.74,206.75 343.12,201.69 343.49,205.82 343.87,203.17 344.24,195.6 344.62,195.2 344.99,206.01 345.37,195.2 345.75,195.6 346.12,202.89 346.5,206.95 346.87,202.29 347.25,206.63 347.62,202.78 348,206.78 348.38,203.53 348.75,206.35 349.13,201.38 349.5,206.77 349.88,198.93 350.25,205.78 350.63,198.4 351.01,205.97 351.38,202.43 351.76,205.96 352.13,203.19 352.51,206.22 352.88,202.6 353.26,206.17 353.64,200.33 354.01,206.24 354.39,199.28 354.76,204.99 355.14,201.06 355.51,205.54 355.89,202.02 356.27,206.35 356.64,202.15 357.02,206.67 357.39,203.56 357.77,206.13 358.14,203.05 358.52,205.95 358.9,202.62 359.27,206.06 359.65,203.35 360.02,206.02 360.4,201.16 360.77,206.99 361.15,202.04 361.52,205.16 361.9,200.4 362.28,205.23 362.65,203.55 363.03,205.11 363.4,202.79 363.78,205.26 364.15,200.47 364.53,206.19 364.91,203.15 365.28,206.59 365.66,203.35 366.03,206.52 366.41,203.5 366.78,205.58 367.16,200.8 367.54,205.26 367.91,202.05 368.29,205.46 368.66,200.62 369.04,206.12 369.41,201.45 369.79,205.63 370.17,202 370.54,205.01 370.92,203.08 371.29,195.6 371.67,195.2 372.04,205.82 372.42,201.46 372.8,206.2 373.17,203.6 373.55,206.85 373.92,203.09 374.3,206.69 374.67,202.16 375.05,206.61 375.43,200.26 375.8,205.54 376.18,199.4 376.55,205.94 376.93,201.01 377.3,206.89 377.68,203.52 378.06,206.41 378.43,201.91 378.81,205.36 379.18,190 379.56,190.4 379.93,200.37 380.31,206.56 380.69,203.56 381.06,205.65 381.44,178.3 381.81,178.7 382.19,202.21 382.56,206.08 382.94,203.35 383.32,205.14 383.69,201.96 384.07,197.7 384.44,197.3 384.82,205.04 385.19,201.33 385.57,205.64 385.95,203.46 386.32,205.41 386.7,202.45 387.07,205.4 387.45,202.88 387.82,204.97 388.2,203.86 388.57,205.23 388.95,203.52 389.33,206.38 389.7,203.8 390.08,206.65 390.45,203.97 390.83,205.17 391.2,199.4 391.58,206.59 391.96,196.9 392.33,205.23 392.71,194.4 393.08,205.69 393.46,192.1 393.83,206.91 394.21,191.2 394.59,205.96 394.96,191 395.34,205.38 395.71,191.5 396.09,206.38 396.46,203.34 396.84,205.45 397.22,201.77 397.59,205.67 397.97,202.27 398.34,190.7 398.72,190.3 399.09,206.73 399.47,202.86 399.85,205.16 400.22,201.48 400.6,205.47 400.97,203.43 401.35,206.52 401.72,201.74 402.1,206.09 402.48,199.4 402.85,205.55 403.23,203.04 403.6,205.27 403.98,203.14 404.35,206.69 404.73,202.52 405.11,205.13 405.48,201.34 405.86,206.08 406.23,198.7 406.61,205.52 406.98,202.07 407.36,205.04 407.74,203.14 408.11,205.16 408.49,202.47 408.86,206.41 409.24,192.9 409.61,206.81 409.99,191.2 410.37,206.53 410.74,190.6 411.12,205.18 411.49,191.2 411.87,205.48 412.24,193.9 412.62,206.29 413,203.13 413.37,205.64 413.75,201.47 414.12,206.37 414.5,202.3 414.87,205.42 415.25,202.7 415.62,206.22 416,202.3 416.38,205.28 416.75,192.4 417.13,206.44 417.5,191.4 417.88,206.4 418.25,192.9 418.63,205.24 419.01,203.48 419.38,205.32 419.76,203.06 420.13,204.98 420.51,202.03 420.88,195.3 421.26,194.9 421.64,206.66 422.01,202.78 422.39,206.1 422.76,203.33 423.14,205.81 423.51,202.33 423.89,206.34 424.27,203.56 424.64,206.65 425.02,203.54 425.39,206.53 425.77,198 426.14,206.69 426.52,203.11 426.9,206.18 427.27,202.38 427.65,205.13 428.02,203.23 428.4,206.56 428.77,202.67 429.15,206.47 429.53,198 429.9,205.08 430.28,203.02 430.65,206.47 431.03,202 431.4,206.64 431.78,203.46 432.16,206.89 432.53,202.88 432.91,205.79 433.28,201.24 433.66,206.45 434.03,198.7 434.41,206.64 434.79,202.31 435.16,205.01 435.54,202.25 435.91,206.37 436.29,201.77 436.66,206.85 437.04,198.7 437.42,205.17 437.79,203.56 438.17,206.38 438.54,203.09 438.92,206.59 439.29,203.45 439.67,206.94 440.05,195.6 440.42,196 440.8,202.36 441.17,205.02 441.55,203.25 441.92,205.65 442.3,202.63 442.68,205.55 443.05,203 443.43,205.19 443.8,195.2 444.18,195.6 444.55,201.16 444.93,205.41 445.3,201.76 445.68,206.87 446.06,203.42 446.43,205.64 446.81,202.52 447.18,205.2 447.56,200.24 447.93,206.08 448.31,202.03 448.69,206.05 449.06,200.9 449.44,206.5 449.81,202.38 450.19,206.16 450.56,201.4 450.94,205.87 451.32,203.27 451.69,205.14 452.07,192.4 452.44,192.8 452.82,202.86 453.19,205.03 453.57,202.71 453.95,205.49 454.32,202.74 454.7,205.84 455.07,201.1 455.45,205.14 455.82,196.2 456.2,196.6 456.58,201.89 456.95,205.25 457.33,203.37 457.7,206.98 458.08,203.49 458.45,206.48 458.83,201.27 459.21,206.96 459.58,202.24 459.96,196.6 460.33,196.2 460.71,205.81 461.08,202.36 461.46,205.3 461.84,203.39 462.21,206.83 462.59,203.54 462.96,206.25 463.34,200.84 463.71,206.27 464.09,200.74 464.47,205.43 464.84,203.58 465.22,204.96 465.59,202.67 465.97,206.53 466.34,196.6 466.72,197 467.1,202.39 467.47,206.24 467.85,201.4 468.22,205.25 468.6,192.4 468.97,206.55 469.35,192.4 469.73,205.59 470.1,192.9 470.48,205.29 470.85,193.4 471.23,205.67 471.6,193.9 471.98,206.06 472.35,201.41 472.73,205.4 473.11,201.25 473.48,204.99 473.86,201.42 474.23,206.62 474.61,202.62 474.98,206.38 475.36,200.21 475.74,205.94 476.11,199.4 476.49,205.95 476.86,202.81 477.24,206.12 477.61,202.4 477.99,205.07 478.37,199.4 478.74,205.83 479.12,202.66 479.49,206.94 479.87,203.19 480.24,205.82 480.62,202.7 481,205.3 481.37,203.65 481.75,206.67 482.12,203.47 482.5,206.7 482.87,202.36 483.25,205.49 483.63,203.16 484,206.29 484.38,202.69 484.75,205.61 485.13,203.03 485.5,205.82 485.88,202.48 486.26,206.8 486.63,202.33 487.01,205.25 487.38,203.98 487.76,206.08 488.13,201.84 488.51,205.63 488.89,203.36 489.26,205.58 489.64,202.93 490.01,205.87 490.39,198.7 490.76,206.72 491.14,202.93 491.52,206.95 491.89,201.3 492.27,206.6 492.64,203.04 493.02,205.03 493.39,202.56 493.77,196 494.15,195.6 494.52,206.1 494.9,201.74 495.27,206.26 495.65,203.03 496.02,205.53 496.4,201.64 496.77,204.96 497.15,200.66 497.53,205.3 497.9,200.1 498.28,205.08 498.65,201.93 499.03,206.29 499.4,202.05 499.78,205.77 500.16,201.99 500.53,206.01 500.91,202.03 501.28,205.14 501.66,202.92 502.03,205.28 502.41,201.95 502.79,205.14 503.16,202.23 503.54,206.71 503.91,198 504.29,206.01 504.66,202.84 505.04,205.43 505.42,201.44 505.79,205.38 506.17,203.45 506.54,206.1 506.92,202.05 507.29,196.6 507.67,196.2 508.05,205.07 508.42,203.04 508.8,205.82 509.17,203.24 509.55,206.71 509.92,201.04 510.3,193.5 510.68,193.1 511.05,205.14 511.43,200.89 511.8,205.11 512.18,203.44 512.55,206.64 512.93,202.79 513.31,206.92 513.68,197.3 514.06,197.7 514.43,203.46 514.81,206.53 515.18,202.69 515.56,205.02 515.94,203.47 516.31,193.5 516.69,193.1 517.06,206.15 517.44,193.4 517.81,206.39 518.19,191.9 518.57,205.79 518.94,191.4 519.32,206.73 519.69,202.07 520.07,205.28 520.44,202.09 520.82,206.34 521.2,200.25 521.57,205.95 521.95,200.83 522.32,205.14 522.7,201.74 523.07,206.09 523.45,205.9 523.83,206.84 524.2,205.85 524.58,205.7 524.95,205.66 525.33,206.17 525.7,201.47 526.08,204.92 526.45,201.5 526.83,194.45 527.21,200.93 527.58,206.05 527.96,200.46 528.33,206.35 528.71,198.97 529.08,206.41 529.46,201.66 529.84,205.74 530.21,201.35 530.59,206.94 530.96,200.58 531.34,205.71 531.71,179.65 532.09,179.65 532.47,200.98 532.84,207 533.22,199.95 533.59,186.25 533.97,201.93 534.34,205.43 534.72,200.88 535.1,205.41 535.47,189.55 535.85,205.32 536.22,199.85 536.6,206.55 536.97,200.08 537.35,206.81 537.73,198.9 538.1,205.58 538.48,200.39 538.85,206.26 539.23,199.85 539.6,193.95 539.98,200.7 540.36,204.9 540.73,201.03 541.11,205.97 541.48,198.16 541.86,206.14 542.23,184.05 542.61,206.22 542.99,201.06 543.36,206.46 543.74,199.39 544.11,205.73 544.49,199.47 544.86,206.01 545.24,199.39 545.62,199.35 545.99,199.63 546.37,206.22 546.74,200.07 547.12,206.19 547.49,200.81 547.87,205.46 548.25,199.67 548.62,206.42 549,186.75 549.37,186.75 549.75,200.05 550.12,205.2 550.5,200.94 550.88,206.85 551.25,190.35 551.63,206.01 552,200.77 552.38,206.61 552.75,201.03 553.13,206.63 553.5,200.18 553.88,205.87 554.26,191.95 554.63,206.78 555.01,198.93 555.38,206.72 555.76,199.68 556.13,206.65 556.51,200.71 556.89,206.62 557.26,178.85 557.64,205.43 558.01,200.49 558.39,205.12 558.76,199.42 559.14,205.99 559.52,198.98 559.89,205.85 560.27,197.95 560.64,206.99 561.02,200.31 561.39,206.36 561.77,199.47 562.15,206.58 562.52,198.35 562.9,206.49 563.27,199.77 563.65,205.67 564.02,199.27 564.4,193.95 564.78,200.99 565.15,205.61 565.53,199.66 565.9,195.45 566.28,201.8 566.65,206.1 567.03,202.69 567.41,146.95 567.78,146.95 568.16,146.95 568.53,200.65 568.91,205.58 569.28,194.95 569.66,205.09 570.04,205.14 570.41,206.7 570.79,205.29 571.16,206.2 571.54,201.3 571.91,205.68 572.29,201.24 572.67,191.15 573.04,202.36 573.42,206.4 573.79,202.37 574.17,206.26 574.54,201.33 574.92,206.6 575.3,201.91 575.67,206.12 576.05,201.62 576.42,196.85 576.8,201.37 577.17,206.39 577.55,199.07 577.92,205.68 578.3,202.12 578.68,205.05 579.05,201.64 579.43,206.49 579.8,201.47 580.18,205.94 580.55,201.54 580.93,206.79 581.31,198.25 581.68,206.14 582.06,202.46 582.43,205.87 582.81,200.01 583.18,205.77 583.56,202.12 583.94,205.89 584.31,201.55 584.69,205.93 585.06,201.77 585.44,200.45 585.81,201.79 586.19,206.45 586.57,200.81 586.94,205.74 587.32,200.61 587.69,206.06 588.07,202.23 588.44,206.52 588.82,202.71 589.2,205.36 589.57,202.05 589.95,205.06 590.32,202.51 590.7,205.09 591.07,202.17 591.45,206.48 591.83,202.34 592.2,206.33 592.58,193.65 592.95,206.39 593.33,202.3 593.7,206.35 594.08,202.75 594.46,205.78 594.83,198.21 595.21,206.62 595.58,200.13 595.96,206.73 596.33,200.15 596.71,205.99 597.09,201.73 597.46,204.91 597.84,201.6 598.21,205.45 598.59,202.71 598.96,205.56 599.34,202.71 599.72,199.35 600.09,199.83 600.47,205.97 600.84,202.37 601.22,205.54 601.59,202.57 601.97,206.72 602.35,201.85 602.72,205.44 603.1,200 603.47,205.32 603.85,198.25 604.22,205.68 604.6,202.2 604.98,205.87 605.35,200.82 605.73,205.67 606.1,198.25 606.48,206.58 606.85,201.77 607.23,206.07 607.6,199.6 607.98,205.01 608.36,202.07 608.73,205.76 609.11,201.1 609.48,206.09 609.86,202.27 610.23,206.57 610.61,201.73 610.99,197.75 611.36,202.14 611.74,206.14 612.11,200.18 612.49,205.85 612.86,201.31 613.24,206.74 613.62,202.15 613.99,205.02 614.37,201.25 614.74,205 615.12,201.93 615.49,206.71 615.87,200.98 616.25,205.28 616.62,201.92 617,206.84 617.37,200.3 617.75,200.55 618.12,201.79 618.5,206.32" fill="none" stroke="#1f77b4" stroke-width="2.08" stroke-linejoin="round" stroke-linecap="butt"/>
<line x1="77.5" y1="210.5" x2="77.5" y2="215.36" stroke="#000" stroke-width="1.11"/>
<text x="77.2" y="229.75" text-anchor="middle" font-family='"Liberation Serif", serif' font-size="13.89">0</text>
<line x1="167.5" y1="210.5" x2="167.5" y2="215.36" stroke="#000" stroke-width="1.11"/>
<text x="167.2" y="229.75" text-anchor="middle" font-family='"Liberation Serif", serif' font-size="13.89">4</text>
<line x1="257.5" y1="210.5" x2="257.5" y2="215.36" stroke="#000" stroke-width="1.11"/>
<text x="257.2" y="229.75" text-anchor="middle" font-family='"Liberation Serif", serif' font-size="13.89">8</text>
<line x1="348.5" y1="210.5" x2="348.5" y2="215.36" stroke="#000" stroke-width="1.11"/>
<text x="348.2" y="229.75" text-anchor="middle" font-family='"Liberation Serif", serif' font-size="13.89">12</text>
<line x1="438.5" y1="210.5" x2="438.5" y2="215.36" stroke="#000" stroke-width="1.11"/>
<text x="438.2" y="229.75" text-anchor="middle" font-family='"Liberation Serif", serif' font-size="13.89">16</text>
<line x1="528.5" y1="210.5" x2="528.5" y2="215.36" stroke="#000" stroke-width="1.11"/>
<text x="528.2" y="229.75" text-anchor="middle" font-family='"Liberation Serif", serif' font-size="13.89">20</text>
<line x1="618.5" y1="210.5" x2="618.5" y2="215.36" stroke="#000" stroke-width="1.11"/>
<text x="618.2" y="229.75" text-anchor="middle" font-family='"Liberation Serif", serif' font-size="13.89">24</text>
<line x1="72.64" y1="210.5" x2="77.5" y2="210.5" stroke="#000" stroke-width="1.11"/>
<text x="67.55" y="215.35" text-anchor="end" font-family='"Liberation Serif", serif' font-size="13.89">0</text>
<line x1="72.64" y1="192.5" x2="77.5" y2="192.5" stroke="#000" stroke-width="1.11"/>
<text x="67.55" y="196.63" text-anchor="end" font-family='"Liberation Serif", serif' font-size="13.89">4000</text>
<line x1="72.64" y1="173.5" x2="77.5" y2="173.5" stroke="#000" stroke-width="1.11"/>
<text x="67.55" y="177.91" text-anchor="end" font-family='"Liberation Serif", serif' font-size="13.89">8000</text>
<line x1="72.64" y1="154.5" x2="77.5" y2="154.5" stroke="#000" stroke-width="1.11"/>
<text x="66.85" y="159.19" text-anchor="end" font-family='"Liberation Serif", serif' font-size="13.89">12000</text>
<rect x="77.5" y="152.5" width="541" height="58" fill="none" stroke="#000" stroke-width="1.11" stroke-linejoin="miter"/>
<text x="306.87" y="144.1" font-family='"Liberation Sans", sans-serif' font-size="16.1" textLength="53.25" lengthAdjust="spacingAndGlyphs">Triggers</text>
<line x1="361.6" y1="147.3" x2="366.8" y2="132.2" stroke="#000" stroke-width="1.05"/>
<text x="368.56" y="144.1" font-family='"Liberation Sans", sans-serif' font-size="16.1" textLength="19.5" lengthAdjust="spacingAndGlyphs">sec</text>
<text transform="translate(24.95,197.7) rotate(-90)" x="-0.64" y="0" font-family='"Liberation Sans", sans-serif' font-size="14.2" textLength="34.05" lengthAdjust="spacingAndGlyphs">Count</text>
<line x1="77.5" y1="268.5" x2="77.5" y2="327.5" stroke="#b0b0b0" stroke-width="1.11"/>
<line x1="167.5" y1="268.5" x2="167.5" y2="327.5" stroke="#b0b0b0" stroke-width="1.11"/>
<line x1="257.5" y1="268.5" x2="257.5" y2="327.5" stroke="#b0b0b0" stroke-width="1.11"/>
<line x1="348.5" y1="268.5" x2="348.5" y2="327.5" stroke="#b0b0b0" stroke-width="1.11"/>
<line x1="438.5" y1="268.5" x2="438.5" y2="327.5" stroke="#b0b0b0" stroke-width="1.11"/>
<line x1="528.5" y1="268.5" x2="528.5" y2="327.5" stroke="#b0b0b0" stroke-width="1.11"/>
<line x1="618.5" y1="268.5" x2="618.5" y2="327.5" stroke="#b0b0b0" stroke-width="1.11"/>
<line x1="77.5" y1="327.5" x2="618.5" y2="327.5" stroke="#b0b0b0" stroke-width="1.11"/>
<line x1="77.5" y1="315.5" x2="618.5" y2="315.5" stroke="#b0b0b0" stroke-width="1.11"/>
<line x1="77.5" y1="303.5" x2="618.5" y2="303.5" stroke="#b0b0b0" stroke-width="1.11"/>
<line x1="77.5" y1="292.5" x2="618.5" y2="292.5" stroke="#b0b0b0" stroke-width="1.11"/>
<line x1="77.5" y1="280.5" x2="618.5" y2="280.5" stroke="#b0b0b0" stroke-width="1.11"/>
<line x1="77.5" y1="268.5" x2="618.5" y2="268.5" stroke="#b0b0b0" stroke-width="1.11"/>
<polyline clip-path="url(#c2)" points="77.5,312.7 612,312.7 614,313 616,312.8 618.5,313.3" fill="none" stroke="#1f77b4" stroke-width="2.08" stroke-linejoin="round" stroke-linecap="butt"/>
<line x1="77.5" y1="327.5" x2="77.5" y2="332.36" stroke="#000" stroke-width="1.11"/>
<text x="77.2" y="345.75" text-anchor="middle" font-family='"Liberation Serif", serif' font-size="13.89">0</text>
<line x1="167.5" y1="327.5" x2="167.5" y2="332.36" stroke="#000" stroke-width="1.11"/>
<text x="167.2" y="345.75" text-anchor="middle" font-family='"Liberation Serif", serif' font-size="13.89">4</text>
<line x1="257.5" y1="327.5" x2="257.5" y2="332.36" stroke="#000" stroke-width="1.11"/>
<text x="257.2" y="345.75" text-anchor="middle" font-family='"Liberation Serif", serif' font-size="13.89">8</text>
<line x1="348.5" y1="327.5" x2="348.5" y2="332.36" stroke="#000" stroke-width="1.11"/>
<text x="348.2" y="345.75" text-anchor="middle" font-family='"Liberation Serif", serif' font-size="13.89">12</text>
<line x1="438.5" y1="327.5" x2="438.5" y2="332.36" stroke="#000" stroke-width="1.11"/>
<text x="438.2" y="345.75" text-anchor="middle" font-family='"Liberation Serif", serif' font-size="13.89">16</text>
<line x1="528.5" y1="327.5" x2="528.5" y2="332.36" stroke="#000" stroke-width="1.11"/>
<text x="528.2" y="345.75" text-anchor="middle" font-family='"Liberation Serif", serif' font-size="13.89">20</text>
<line x1="618.5" y1="327.5" x2="618.5" y2="332.36" stroke="#000" stroke-width="1.11"/>
<text x="618.2" y="345.75" text-anchor="middle" font-family='"Liberation Serif", serif' font-size="13.89">24</text>
<line x1="72.64" y1="327.5" x2="77.5" y2="327.5" stroke="#000" stroke-width="1.11"/>
<text x="67.2" y="332.05" text-anchor="end" font-family='"Liberation Serif", serif' font-size="13.89">20</text>
<line x1="42.96" y1="328.5" x2="51.56" y2="328.5" stroke="#000" stroke-width="0.75"/>
<line x1="72.64" y1="315.5" x2="77.5" y2="315.5" stroke="#000" stroke-width="1.11"/>
<text x="67.2" y="320.25" text-anchor="end" font-family='"Liberation Serif", serif' font-size="13.89">0</text>
<line x1="72.64" y1="303.5" x2="77.5" y2="303.5" stroke="#000" stroke-width="1.11"/>
<text x="67.2" y="308.45" text-anchor="end" font-family='"Liberation Serif", serif' font-size="13.89">20</text>
<line x1="72.64" y1="292.5" x2="77.5" y2="292.5" stroke="#000" stroke-width="1.11"/>
<text x="67.2" y="296.65" text-anchor="end" font-family='"Liberation Serif", serif' font-size="13.89">40</text>
<line x1="72.64" y1="280.5" x2="77.5" y2="280.5" stroke="#000" stroke-width="1.11"/>
<text x="67.2" y="284.85" text-anchor="end" font-family='"Liberation Serif", serif' font-size="13.89">60</text>
<line x1="72.64" y1="268.5" x2="77.5" y2="268.5" stroke="#000" stroke-width="1.11"/>
<text x="67.2" y="273.05" text-anchor="end" font-family='"Liberation Serif", serif' font-size="13.89">80</text>
<rect x="77.5" y="268.5" width="541" height="59" fill="none" stroke="#000" stroke-width="1.11" stroke-linejoin="miter"/>
<text x="306.06" y="259.3" font-family='"Liberation Sans", sans-serif' font-size="16.1" textLength="85.21" lengthAdjust="spacingAndGlyphs">Temperature</text>
<text transform="translate(34.85,297.8) rotate(-90)" x="-0.54" y="0" font-family='"Liberation Sans", sans-serif' font-size="14.2" textLength="7.73" lengthAdjust="spacingAndGlyphs">C</text>
<ellipse cx="27.5" cy="302.4" rx="2.1" ry="1.9" fill="none" stroke="#000" stroke-width="0.6" transform="rotate(-15 27.5 302.4)"/>
<line x1="77.5" y1="385.5" x2="77.5" y2="443.5" stroke="#b0b0b0" stroke-width="1.11"/>
<line x1="167.5" y1="385.5" x2="167.5" y2="443.5" stroke="#b0b0b0" stroke-width="1.11"/>
<line x1="257.5" y1="385.5" x2="257.5" y2="443.5" stroke="#b0b0b0" stroke-width="1.11"/>
<line x1="348.5" y1="385.5" x2="348.5" y2="443.5" stroke="#b0b0b0" stroke-width="1.11"/>
<line x1="438.5" y1="385.5" x2="438.5" y2="443.5" stroke="#b0b0b0" stroke-width="1.11"/>
<line x1="528.5" y1="385.5" x2="528.5" y2="443.5" stroke="#b0b0b0" stroke-width="1.11"/>
<line x1="618.5" y1="385.5" x2="618.5" y2="443.5" stroke="#b0b0b0" stroke-width="1.11"/>
<line x1="77.5" y1="443.5" x2="618.5" y2="443.5" stroke="#b0b0b0" stroke-width="1.11"/>
<line x1="77.5" y1="423.5" x2="618.5" y2="423.5" stroke="#b0b0b0" stroke-width="1.11"/>
<line x1="77.5" y1="404.5" x2="618.5" y2="404.5" stroke="#b0b0b0" stroke-width="1.11"/>
<line x1="77.5" y1="385.5" x2="618.5" y2="385.5" stroke="#b0b0b0" stroke-width="1.11"/>
<polyline clip-path="url(#c3)" points="77.5,443 618.5,443" fill="none" stroke="#1f77b4" stroke-width="2.08" stroke-linejoin="round" stroke-linecap="butt"/>
<line x1="77.5" y1="443.5" x2="77.5" y2="448.36" stroke="#000" stroke-width="1.11"/>
<text x="77.2" y="461.75" text-anchor="middle" font-family='"Liberation Serif", serif' font-size="13.89">0</text>
<line x1="167.5" y1="443.5" x2="167.5" y2="448.36" stroke="#000" stroke-width="1.11"/>
<text x="167.2" y="461.75" text-anchor="middle" font-family='"Liberation Serif", serif' font-size="13.89">4</text>
<line x1="257.5" y1="443.5" x2="257.5" y2="448.36" stroke="#000" stroke-width="1.11"/>
<text x="257.2" y="461.75" text-anchor="middle" font-family='"Liberation Serif", serif' font-size="13.89">8</text>
<line x1="348.5" y1="443.5" x2="348.5" y2="448.36" stroke="#000" stroke-width="1.11"/>
<text x="348.2" y="461.75" text-anchor="middle" font-family='"Liberation Serif", serif' font-size="13.89">12</text>
<line x1="438.5" y1="443.5" x2="438.5" y2="448.36" stroke="#000" stroke-width="1.11"/>
<text x="438.2" y="461.75" text-anchor="middle" font-family='"Liberation Serif", serif' font-size="13.89">16</text>
<line x1="528.5" y1="443.5" x2="528.5" y2="448.36" stroke="#000" stroke-width="1.11"/>
<text x="528.2" y="461.75" text-anchor="middle" font-family='"Liberation Serif", serif' font-size="13.89">20</text>
<line x1="618.5" y1="443.5" x2="618.5" y2="448.36" stroke="#000" stroke-width="1.11"/>
<text x="618.2" y="461.75" text-anchor="middle" font-family='"Liberation Serif", serif' font-size="13.89">24</text>
<line x1="72.64" y1="443.5" x2="77.5" y2="443.5" stroke="#000" stroke-width="1.11"/>
<text x="67.6" y="448.05" text-anchor="end" font-family='"Liberation Serif", serif' font-size="13.89">0</text>
<line x1="72.64" y1="423.5" x2="77.5" y2="423.5" stroke="#000" stroke-width="1.11"/>
<text x="67.6" y="428.65" text-anchor="end" font-family='"Liberation Serif", serif' font-size="13.89">4</text>
<line x1="72.64" y1="404.5" x2="77.5" y2="404.5" stroke="#000" stroke-width="1.11"/>
<text x="67.6" y="409.25" text-anchor="end" font-family='"Liberation Serif", serif' font-size="13.89">8</text>
<line x1="72.64" y1="385.5" x2="77.5" y2="385.5" stroke="#000" stroke-width="1.11"/>
<text x="67.2" y="389.85" text-anchor="end" font-family='"Liberation Serif", serif' font-size="13.89">12</text>
<rect x="77.5" y="385.5" width="541" height="58" fill="none" stroke="#000" stroke-width="1.11" stroke-linejoin="miter"/>
<text x="287.72" y="375.5" font-family='"Liberation Sans", sans-serif' font-size="16.1" textLength="61.31" lengthAdjust="spacingAndGlyphs">Satellites</text>
<text x="355.27" y="375.5" font-family='"Liberation Sans", sans-serif' font-size="16.1" textLength="52.25" lengthAdjust="spacingAndGlyphs">Tracked</text>
<text transform="translate(44.9,436.7) rotate(-90)" x="-1.05" y="0" font-family='"Liberation Sans", sans-serif' font-size="14.2" textLength="45.26" lengthAdjust="spacingAndGlyphs">Number</text>
</svg></body></html>
